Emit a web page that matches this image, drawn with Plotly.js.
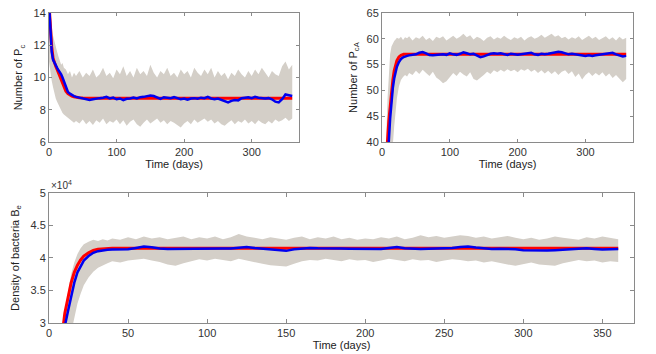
<!DOCTYPE html>
<html>
<head>
<meta charset="utf-8">
<script src="https://cdn.plot.ly/plotly-3.0.1.min.js"></script>
<style>
  html, body { margin: 0; padding: 0; background: #fff; }
  #chart { width: 656px; height: 354px; }
</style>
</head>
<body>
<div id="chart"></div>
<script>
// shared time grid (days) for the stochastic runs
const days = [0, 2, 4, 6, 8, 10, 12, 14, 16, 18, 20, 22, 25, 28, 31, 34, 37, 40,
  45, 50, 55, 60, 65, 70, 75, 80,
  85, 90, 95, 100, 105, 110, 115, 120,
  125, 130, 135, 140, 145, 150, 155, 160,
  165, 170, 175, 180, 185, 190, 195, 200,
  205, 210, 215, 220, 225, 230, 235, 240,
  245, 250, 255, 260, 265, 270, 275, 280,
  285, 290, 295, 300, 305, 310, 315, 320,
  325, 330, 335, 340, 345, 350, 355, 360];

// Panel 1: number of Pc
const pcUpper = [15, 13.8, 13.2, 12.6, 12.2, 11.8, 11.6, 11.3, 11.1, 10.8, 10.9, 10.6, 10.5, 10.2, 10.4, 10.0, 10.3, 10.1,
  10.4, 10.0, 10.3, 10.1, 10.5, 10.0, 10.2, 10.6,
  10.1, 10.3, 9.95, 10.5, 10.2, 10.7, 10.1, 10.4,
  10.0, 10.6, 10.2, 10.4, 10.1, 10.8, 10.3, 10.0,
  10.4, 10.2, 10.6, 10.1, 10.3, 10.0, 10.5, 10.2,
  10.4, 10.0, 10.6, 10.3, 10.1, 10.5, 10.2, 10.6,
  10.0, 10.4, 10.1, 10.3, 9.9, 10.3, 10.1, 10.5,
  10.2, 10.0, 10.4, 10.1, 10.5, 10.2, 10.6, 10.3,
  10.0, 10.4, 10.2, 10.1, 10.7, 11.0, 10.5, 10.8];
const pcLower = [11.0, 10.3, 9.8, 9.4, 9.0, 8.7, 8.5, 8.3, 8.1, 7.9, 7.8, 7.7, 7.6, 7.5, 7.4, 7.35, 7.2, 7.3,
  7.15, 7.4, 7.1, 7.3, 7.05, 7.35, 7.2, 7.45,
  7.1, 7.3, 7.2, 7.4, 7.1, 7.35, 7.0, 7.25,
  7.4, 7.1, 6.95, 7.2, 7.4, 7.15, 7.3, 7.45,
  7.2, 7.35, 7.1, 7.3, 7.2, 7.05, 6.9, 7.15,
  7.3, 7.1, 7.4, 7.2, 7.3, 7.45, 7.25, 7.4,
  7.15, 7.3, 7.1, 7.0, 7.2, 7.35, 7.1, 7.3,
  7.2, 7.4, 7.15, 7.3, 7.1, 7.35, 7.2, 7.1,
  7.3, 7.15, 7.4, 7.25, 7.35, 7.5, 7.3, 7.45];
const pcMean = [14.6, 12.6, 11.6, 11.1, 10.9, 10.8, 10.6, 10.45, 10.35, 10.2, 10.0, 9.8, 9.4, 9.1, 9.0, 8.95, 8.85, 8.8,
  8.75, 8.7, 8.65, 8.6, 8.65, 8.7, 8.72, 8.75,
  8.8, 8.7, 8.75, 8.65, 8.7, 8.6, 8.68, 8.7,
  8.75, 8.7, 8.78, 8.8, 8.82, 8.88, 8.85, 8.75,
  8.68, 8.78, 8.75, 8.72, 8.78, 8.72, 8.65, 8.7,
  8.62, 8.7, 8.72, 8.68, 8.75, 8.72, 8.8, 8.7,
  8.65, 8.7, 8.6, 8.55, 8.45, 8.55, 8.6, 8.58,
  8.72, 8.75, 8.78, 8.72, 8.8, 8.75, 8.72, 8.7,
  8.72, 8.65, 8.5, 8.45, 8.65, 8.95, 8.9, 8.85];
const pcDetDays = [0, 2, 4, 6, 8, 10, 12, 14, 16, 18, 20, 22, 25, 28, 31, 34, 37, 40, 45, 50, 60, 360];
const pcDet = [14.6, 13.0, 11.9, 11.2, 10.9, 10.7, 10.5, 10.3, 10.1, 9.85, 9.6, 9.4, 9.15, 9.0, 8.9, 8.85, 8.8, 8.77, 8.75, 8.73, 8.72, 8.72];

// Panel 2: number of PcA
const pcaUpper = [0, 15, 30, 40, 48, 54, 57, 58.5, 59.2, 59.6, 59.9, 60.2, 60.0, 60.4, 59.8, 60.3, 60.1, 60.5,
  59.7, 60.3, 60.0, 60.6, 59.8, 60.2, 59.6, 60.4,
  60.1, 60.5, 59.7, 60.2, 60.6, 60.0, 60.4, 61.0,
  60.3, 60.7, 59.9, 60.4, 60.1, 59.6, 60.2, 60.5,
  59.9, 60.3, 60.0, 60.6, 60.1, 59.8, 60.3, 60.0,
  60.4, 59.7, 60.2, 60.5, 60.0, 60.3, 60.8, 60.2,
  60.6, 61.0, 60.4, 60.7, 60.1, 60.4, 59.9, 60.3,
  60.0, 60.5, 59.8, 60.2, 60.6, 60.0, 60.4, 59.8,
  60.2, 60.5, 59.9, 60.3, 59.7, 60.4, 59.9, 60.2];
const pcaLower = [0, 0, 5, 12, 20, 26, 31, 35.5, 39.5, 43, 46, 48.5, 50.8, 52.0, 52.6, 53.0, 52.7, 53.4,
  53.0, 53.8, 53.2, 54.0, 53.4, 52.8, 53.6, 52.5,
  52.0, 51.4, 51.8, 52.6, 53.4, 52.8, 53.6, 53.1,
  52.7, 53.5, 52.2, 51.9, 52.4, 53.0, 53.6, 53.2,
  53.9, 53.5, 54.0, 53.6, 54.1, 53.7, 54.0, 53.5,
  54.1, 53.8, 54.2, 53.6, 54.0, 53.4, 53.9, 53.3,
  53.8, 53.2, 53.7, 53.0, 53.6, 53.9, 53.2, 53.7,
  52.6, 53.3, 52.1, 53.0, 53.5, 52.8, 53.4, 52.9,
  53.5, 52.7, 53.3, 52.4, 53.0, 52.3, 51.6, 52.2];
const pcaMean = [0, 8, 18, 28, 35, 40, 44.5, 48, 50.5, 52.3, 53.6, 54.6, 55.5, 56.1, 56.4, 56.6, 56.7, 56.8,
  56.9, 57.0, 57.3, 57.45, 57.2, 56.85, 56.8, 56.85,
  56.9, 57.0, 56.9, 57.2, 57.0, 56.9, 57.1, 57.4,
  57.2, 57.0, 57.1, 56.7, 56.45, 56.6, 56.9, 57.1,
  57.2, 57.1, 57.2, 57.0, 56.9, 57.1, 57.0, 56.9,
  57.0, 57.1, 57.2, 57.3, 57.0, 56.9, 57.1, 57.0,
  57.1, 57.2, 57.3, 57.5, 57.4, 57.2, 57.0, 57.1,
  57.0, 56.9, 56.8, 56.7, 56.8, 56.7, 56.8, 56.9,
  57.0, 57.1, 57.2, 57.3, 57.0, 56.8, 56.6, 56.7];
const pcaDetDays = [0, 4, 8, 10, 12, 14, 16, 18, 20, 22, 25, 28, 32, 40, 360];
const pcaDet = [0, 22, 40, 44, 47, 50, 52, 53.8, 55, 55.8, 56.5, 56.8, 57.0, 57.0, 57.0];

// Panel 3: density of bacteria Be
const beUpper = [5000, 12000, 18000, 24000, 29000, 32000, 35000, 37500, 39300, 40600, 41500, 42100, 42500, 42800, 42600, 42900, 42700, 43000,
  42800, 43200, 42900, 43300, 43000, 43200, 42900, 43100,
  43300, 42900, 43200, 43000, 43300, 42900, 43200, 43700,
  43300, 43100, 42900, 43200, 43000, 42800, 43100, 43300,
  42900, 43200, 43000, 43300, 42900, 43100, 42800, 43000,
  42900, 43200, 43000, 43300, 42900, 43100, 43500, 43200,
  43400, 43100, 43300, 43500, 43400, 43100, 43300, 43000,
  43200, 43400, 43100, 42900, 43100, 42800, 43000, 43300,
  43100, 43000, 42800, 43200, 43000, 43300, 43100, 42900];
const beLower = [5000, 5000, 8000, 13000, 18000, 22000, 25500, 28500, 31000, 33000, 34500, 35800, 37000, 37900, 38500, 38900, 39200, 39500,
  39300, 39600, 39700, 39900, 39600, 39400, 39000, 38800,
  39200, 39500, 39800, 39600, 39900, 39700, 39500, 39900,
  39600, 39400, 39100, 38900, 38800, 38700, 39100, 39500,
  39700, 39600, 39900, 39700, 39500, 39800, 39600, 39700,
  39400, 39600, 39900, 39700, 39500, 39800, 39600, 39700,
  39400, 39600, 39800, 39700, 39500, 39600, 39300, 39500,
  39200, 39000, 38800, 39100, 39300, 39000, 38900, 38800,
  39200, 39500, 39700, 39500, 39600, 39300, 39500, 39400];
const beMean = [5000, 10000, 15000, 20000, 25000, 29500, 31800, 34200, 36200, 37800, 38800, 39600, 40300, 40800, 41050, 41200, 41280, 41320,
  41350, 41350, 41550, 41750, 41650, 41450, 41400, 41420,
  41450, 41400, 41430, 41450, 41450, 41480, 41450, 41600,
  41700, 41550, 41450, 41300, 41150, 41100, 41350, 41500,
  41550, 41500, 41450, 41480, 41450, 41420, 41400, 41400,
  41380, 41400, 41550, 41700, 41500, 41400, 41400, 41420,
  41450, 41480, 41550, 41700, 41750, 41600, 41450, 41400,
  41420, 41400, 41350, 41200, 41150, 41100, 41150, 41200,
  41280, 41380, 41450, 41500, 41400, 41300, 41350, 41400];
const beDetDays = [0, 4, 8, 10, 12, 14, 16, 18, 20, 22, 25, 28, 31, 35, 40, 360];
const beDet = [5000, 15000, 27500, 31500, 34000, 36200, 37800, 38900, 39700, 40300, 40800, 41150, 41350, 41450, 41500, 41500];

const beTicks = [30000, 35000, 40000, 45000, 50000];
const beTickText = ['3', '3.5', '4', '4.5', '5'];

const BAND = 'rgb(212,207,200)';
const RED = '#ff0000';
const BLUE = '#0000f0';

function panel(xa, ya, t, lo, hi, mean, tDet, det) {
  return [
    { x: t, y: lo, xaxis: xa, yaxis: ya, type: 'scatter', mode: 'lines',
      line: { width: 0, color: BAND }, hoverinfo: 'skip', showlegend: false },
    { x: t, y: hi, xaxis: xa, yaxis: ya, type: 'scatter', mode: 'lines',
      line: { width: 0, color: BAND }, fill: 'tonexty', fillcolor: BAND, showlegend: false },
    { x: tDet, y: det, xaxis: xa, yaxis: ya, type: 'scatter', mode: 'lines',
      line: { color: RED, width: 3 }, showlegend: false },
    { x: t, y: mean, xaxis: xa, yaxis: ya, type: 'scatter', mode: 'lines',
      line: { color: BLUE, width: 2.5 }, showlegend: false }
  ];
}

const traces = [
  ...panel('x', 'y', days, pcLower, pcUpper, pcMean, pcDetDays, pcDet),
  ...panel('x2', 'y2', days, pcaLower, pcaUpper, pcaMean, pcaDetDays, pcaDet),
  ...panel('x3', 'y3', days, beLower, beUpper, beMean, beDetDays, beDet)
];

const axisBase = {
  showline: true,
  mirror: 'ticks',
  linecolor: '#8a8a8a',
  linewidth: 1,
  ticks: 'inside',
  ticklen: 3,
  tickcolor: '#8a8a8a',
  showgrid: false,
  zeroline: false,
  tickfont: { size: 11, color: '#333' }
};
const xTitle = { text: 'Time (days)', font: { size: 11, color: '#222' }, standoff: 2 };
const yTitleFont = { size: 11, color: '#222' };

const layout = {
  width: 656,
  height: 354,
  margin: { l: 0, r: 0, t: 0, b: 0 },
  paper_bgcolor: '#fff',
  plot_bgcolor: '#fff',
  font: { family: '"Liberation Sans", Arial, sans-serif', color: '#333' },
  showlegend: false,
  xaxis: { ...axisBase, domain: [0.0747, 0.4558], range: [0, 370], tickvals: [0, 100, 200, 300],
    anchor: 'y', title: xTitle },
  yaxis: { ...axisBase, domain: [0.599, 0.963], range: [6, 14], tickvals: [6, 8, 10, 12, 14],
    anchor: 'x', title: { text: 'Number of P<sub>c</sub>', font: yTitleFont, standoff: 8 } },
  xaxis2: { ...axisBase, domain: [0.5823, 0.9649], range: [0, 370], tickvals: [0, 100, 200, 300],
    anchor: 'y2', title: xTitle },
  yaxis2: { ...axisBase, domain: [0.599, 0.963], range: [40, 65], tickvals: [40, 45, 50, 55, 60, 65],
    anchor: 'x2', title: { text: 'Number of P<sub>cA</sub>', font: yTitleFont, standoff: 6 } },
  xaxis3: { ...axisBase, domain: [0.0747, 0.9665], range: [0, 370], ticklen: 4,
    tickvals: [0, 50, 100, 150, 200, 250, 300, 350], anchor: 'y3', title: xTitle },
  yaxis3: { ...axisBase, domain: [0.0876, 0.4548], range: [30000, 50000], ticklen: 4,
    tickvals: beTicks, ticktext: beTickText,
    anchor: 'x3', title: { text: 'Density of bacteria B<sub>e</sub>', font: yTitleFont, standoff: 8 } },
  annotations: [
    { text: '\u00d710<sup>4</sup>', xref: 'paper', yref: 'paper', x: 0.0747, y: 0.4548,
      xanchor: 'left', yanchor: 'bottom', showarrow: false, font: { size: 10, color: '#333' } }
  ]
};

Plotly.newPlot('chart', traces, layout, { displayModeBar: false, staticPlot: true });
</script>
</body>
</html>
